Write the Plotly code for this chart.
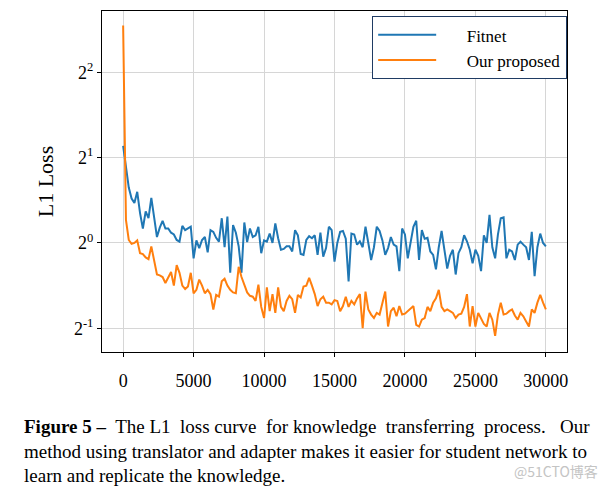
import numpy as np
import plotly.graph_objects as go

# iterations (step 200)
iterations = list(range(0, 30001, 200))

# L1 loss, in log2 units (axis is log2 scaled)
fitnet_log2 = [
    1.14, 0.88, 0.65, 0.52, 0.47, 0.60, 0.35, 0.17, 0.37, 0.29,
    0.53, 0.30, 0.07, 0.18, 0.26, 0.17, 0.17, 0.12, 0.10, 0.035,
    0.015, 0.20, 0.15, 0.17, 0.19, -0.18, 0.03, -0.06, 0.035, 0.07,
    -0.11, 0.15, 0.13, 0.06, 0.015, 0.29, -0.05, 0.31, -0.35, 0.21,
    0.12, -0.04, -0.35, 0.24, 0.01, 0.17, 0.07, 0.09, 0.19, -0.12,
    0.03, 0.015, 0.11, 0.0, 0.23, 0.055, -0.08, -0.07, -0.04, -0.04,
    -0.10, 0.15, 0.09, -0.13, -0.14, 0.035, 0.08, 0.055, 0.09, -0.14,
    0.12, -0.16, -0.06, 0.19, 0.15, -0.22, 0.0, 0.13, 0.14, 0.05,
    -0.45, 0.11, 0.10, -0.02, 0.02, -0.05, 0.19, 0.0, -0.20, -0.05,
    0.19, 0.14, 0.03, -0.14, -0.06, 0.07, -0.02, -0.04, -0.33, 0.17,
    0.10, -0.18, 0.0, 0.19, 0.26, -0.20, 0.15, 0.05, 0.06, -0.10,
    -0.14, -0.31, -0.05, 0.14, -0.08, -0.30, -0.15, -0.08, -0.37, -0.12,
    -0.05, 0.09, 0.02, -0.08, -0.24, -0.08, -0.15, -0.33, 0.09, 0.0,
    0.33, -0.05, -0.18, 0.10, 0.29, 0.30, -0.18, -0.08, -0.10, -0.20,
    -0.02, 0.015, -0.02, -0.05, -0.20, 0.13, -0.39, -0.05, 0.11, 0.0,
    -0.04,
]

proposed_log2 = [
    2.55, 0.27, 0.035, -0.01, 0.0, 0.03, -0.12, -0.13, -0.17, -0.19,
    -0.04, -0.20, -0.37, -0.38, -0.40, -0.47, -0.40, -0.34, -0.50, -0.26,
    -0.35, -0.50, -0.54, -0.51, -0.35, -0.59, -0.55, -0.43, -0.50, -0.59,
    -0.55, -0.60, -0.78, -0.61, -0.63, -0.45, -0.42, -0.50, -0.55, -0.58,
    -0.59, -0.28, -0.40, -0.50, -0.58, -0.62, -0.63, -0.68, -0.49, -0.75,
    -0.88, -0.52, -0.80, -0.60, -0.82, -0.52, -0.75, -0.80, -0.68, -0.62,
    -0.66, -0.82, -0.61, -0.64, -0.51, -0.50, -0.41, -0.50, -0.60, -0.74,
    -0.66, -0.63, -0.70, -0.70, -0.72, -0.67, -0.68, -0.80, -0.74, -0.63,
    -0.75, -0.68, -0.72, -0.65, -0.60, -1.00, -0.57, -0.78, -0.84, -0.88,
    -0.82, -0.84, -0.72, -0.57, -0.98, -0.80, -0.76, -0.86, -0.74, -0.84,
    -0.83, -0.80, -0.76, -0.74, -0.96, -0.98, -0.90, -0.88, -0.75, -0.80,
    -0.70, -0.65, -0.55, -0.75, -0.80, -0.78, -0.80, -0.82, -0.88, -0.84,
    -0.83, -0.75, -0.60, -0.98, -0.74, -0.98, -0.82, -0.88, -0.95, -0.98,
    -0.82, -0.90, -1.09, -0.84, -0.70, -0.84, -0.83, -0.80, -0.78, -0.85,
    -0.90, -0.82, -0.86, -0.92, -0.98, -0.78, -0.82, -0.70, -0.61, -0.70,
    -0.78,
]

x_tick_vals = [0, 5000, 10000, 15000, 20000, 25000, 30000]
x_tick_text = ["0", "5000", "10000", "15000", "20000", "25000", "30000"]
y_tick_vals = [0.5, 1, 2, 4]
y_tick_text = ["2<sup>-1</sup>", "2<sup>0</sup>", "2<sup>1</sup>", "2<sup>2</sup>"]

assert len(fitnet_log2) == len(iterations) and len(proposed_log2) == len(iterations)

fitnet = np.power(2.0, np.array(fitnet_log2))
proposed = np.power(2.0, np.array(proposed_log2))

serif = "Liberation Serif"
pad = "\u00a0" * 6

fig = go.Figure()
fig.add_trace(go.Scatter(x=iterations, y=fitnet, mode="lines", name=pad + "Fitnet",
                         line=dict(color="#1f77b4", width=2)))
fig.add_trace(go.Scatter(x=iterations, y=proposed, mode="lines", name=pad + "Our proposed",
                         line=dict(color="#ff7f0e", width=2)))

fig.update_layout(
    width=610, height=489,
    margin=dict(l=102, r=43, t=11, b=137),
    paper_bgcolor="white", plot_bgcolor="white",
    font=dict(family=serif, size=18, color="black"),
    showlegend=True,
    legend=dict(x=0.5806, y=0.985, xanchor="left", yanchor="top",
                bordercolor="#1f3b63", borderwidth=1.2, bgcolor="white",
                font=dict(family=serif, size=17, color="black"),
                itemwidth=58, tracegroupgap=0),
    xaxis=dict(range=[-1500, 31500], tickvals=x_tick_vals, ticktext=x_tick_text,
               showgrid=True, gridcolor="#d6d6d6", gridwidth=1,
               showline=True, linecolor="black", linewidth=1, mirror=True,
               ticks="outside", ticklen=4, tickcolor="black",
               ticklabelstandoff=8, zeroline=False,
               tickfont=dict(family=serif, size=18)),
    yaxis=dict(type="log", range=[-0.385, 0.819],
               tickvals=y_tick_vals, ticktext=y_tick_text,
               showgrid=True, gridcolor="#d6d6d6", gridwidth=1,
               showline=True, linecolor="black", linewidth=1, mirror=True,
               ticks="outside", ticklen=4, tickcolor="black",
               zeroline=False,
               tickfont=dict(family=serif, size=18),
               title=dict(text="L1 Loss", font=dict(family=serif, size=22), standoff=14)),
)

nb = "\u00a0"
line1 = ("<b>Figure 5 –</b>" + nb + " The L1" + nb + " loss curve" + nb + " for knowledge"
         + nb + " transferring" + nb + " process." + nb + nb + " Our")
caption = (line1 + "<br>"
           "method using translator and adapter makes it easier for student network to<br>"
           "learn and replicate the knowledge.")
fig.add_annotation(text=caption, xref="paper", yref="paper",
                   x=(22 - 102) / 465, y=(352 - 414) / 341,
                   xanchor="left", yanchor="top", align="left", showarrow=False,
                   font=dict(family=serif, size=19, color="black"))
fig.add_annotation(text="@51CTO博客", xref="paper", yref="paper",
                   x=(600 - 102) / 465, y=(352 - 471) / 341,
                   xanchor="right", yanchor="middle", showarrow=False,
                   font=dict(family="Noto Sans CJK SC", size=14, color="#c4c4c4"))

fig.write_html("out.html")
